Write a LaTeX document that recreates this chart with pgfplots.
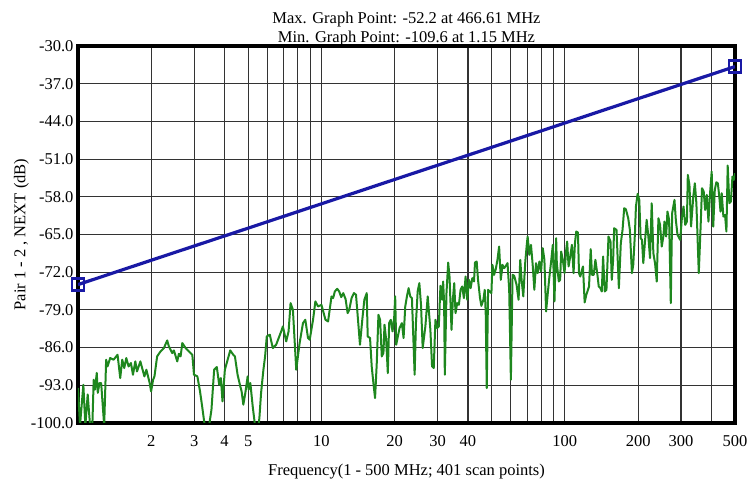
\documentclass[border=0pt]{standalone}
\usepackage{fontspec}
\setmainfont{Liberation Serif}
\usepackage{pgfplots}
\usepackage{pgfplotstable}
\pgfplotsset{compat=1.18}
\definecolor{limitblue}{RGB}{25,25,165}
\definecolor{datagreen}{RGB}{30,135,30}

\pgfplotstableread{
f v
1.00 -93.5
1.019 -100.5
1.052 -92.9
1.072 -100.5
1.096 -94.7
1.121 -100.5
1.13 -109.6
1.16 -91.96
1.175 -93.8
1.194 -90.7
1.206 -94.4
1.225 -92.6
1.245 -92.6
1.281 -100.5
1.305 -88.25
1.322 -89.5
1.356 -87.94
1.400 -88.25
1.454 -87.33
1.491 -91.65
1.520 -88.25
1.549 -89.8
1.579 -87.94
1.614 -89.5
1.650 -88.87
1.682 -91.04
1.720 -88.56
1.747 -90.42
1.804 -88.56
1.874 -91.35
1.910 -90.11
1.971 -92.58
1.997 -94.13
2.035 -91.96
2.061 -91.35
2.114 -87.63
2.183 -86.71
2.253 -86.09
2.325 -84.67
2.362 -85.78
2.438 -87.02
2.477 -86.52
2.557 -88.56
2.598 -87.14
2.640 -87.63
2.682 -85.16
2.768 -86.09
2.857 -86.71
2.949 -87.33
2.996 -91.04
3.093 -91.35
3.172 -94.13
3.243 -97.22
3.316 -100.5
3.456 -100.5
3.534 -97.53
3.625 -90.11
3.718 -89.61
3.802 -92.89
3.863 -91.65
3.924 -95.98
4.012 -90.11
4.155 -87.63
4.221 -86.52
4.343 -87.33
4.412 -87.63
4.525 -91.04
4.642 -93.2
4.701 -94.13
4.777 -96.6
4.868 -94.44
4.977 -91.35
5.025 -93.82
5.105 -92.58
5.220 -96.91
5.337 -100.5
5.508 -100.5
5.561 -99.08
5.650 -94.44
5.777 -90.11
5.870 -87.63
5.964 -83.92
6.137 -83.61
6.314 -86.09
6.516 -85.47
6.834 -83.0
6.944 -82.07
7.168 -84.85
7.329 -83.0
7.470 -77.74
7.637 -78.98
7.882 -90.11
8.136 -85.16
8.399 -81.45
8.588 -80.83
8.809 -84.23
8.950 -84.54
9.238 -80.83
9.445 -77.43
9.689 -78.36
10.0 -78.05
10.39 -80.83
10.65 -81.14
11.0 -76.5
11.17 -76.81
11.35 -75.58
11.61 -75.08
11.83 -75.58
12.06 -76.63
12.29 -75.88
12.57 -77.0
12.81 -79.6
13.01 -78.98
13.30 -76.81
13.60 -75.88
13.87 -76.19
14.17 -81.45
14.40 -85.47
14.72 -80.83
15.01 -77.12
15.35 -75.88
15.49 -83.93
15.84 -84.23
16.09 -89.49
16.35 -92.58
16.61 -95.37
16.88 -88.87
17.15 -79.9
17.42 -80.83
17.70 -87.64
17.98 -87.02
18.16 -81.76
18.45 -84.54
18.74 -90.73
18.98 -81.45
19.28 -80.83
19.59 -83.0
19.90 -80.52
20.09 -76.5
20.29 -85.47
20.61 -83.93
20.94 -82.38
21.41 -81.45
21.75 -84.23
22.10 -78.36
22.45 -76.5
22.81 -74.96
23.17 -76.5
23.54 -76.81
24.15 -91.04
24.45 -81.45
24.85 -75.58
25.25 -74.03
25.65 -78.05
26.06 -86.09
26.73 -82.07
27.33 -76.5
28.03 -82.69
28.48 -89.49
28.93 -89.8
29.40 -80.83
29.87 -82.38
30.35 -82.07
30.83 -74.52
31.33 -77.12
31.62 -73.72
31.92 -77.74
32.13 -91.04
32.64 -75.89
33.17 -70.2
33.59 -72.79
34.23 -82.69
34.67 -77.12
35.12 -74.03
35.56 -79.6
36.13 -77.74
36.71 -78.05
37.29 -75.27
37.89 -74.65
38.49 -76.81
39.11 -72.79
39.74 -77.12
40.37 -73.41
41.02 -74.96
41.67 -73.10
42.34 -73.72
42.75 -70.2
43.43 -70.01
43.99 -73.41
44.83 -76.81
45.40 -78.24
46.28 -77.12
46.87 -75.27
47.31 -79.6
47.77 -93.51
48.38 -75.27
49.15 -75.58
49.92 -75.89
50.40 -70.63
51.21 -72.49
52.03 -71.43
52.86 -69.7
53.70 -67.23
54.57 -73.41
55.44 -70.63
56.33 -71.25
57.23 -70.82
58.15 -70.32
59.07 -75.27
60.02 -91.96
60.98 -72.49
61.94 -72.67
63.34 -74.34
64.55 -77.12
65.59 -69.7
66.43 -73.41
67.49 -76.5
68.79 -70.01
69.66 -67.23
70.33 -65.37
71.45 -68.77
72.60 -66.92
73.77 -70.63
74.94 -75.27
76.14 -70.32
77.36 -72.18
78.60 -70.01
79.86 -71.87
81.13 -67.54
82.41 -69.7
83.75 -79.29
85.09 -75.89
86.44 -72.79
87.83 -70.01
89.23 -66.92
90.65 -77.43
92.10 -65.68
92.67 -70.32
94.45 -73.72
95.65 -73.41
96.56 -68.16
98.10 -69.7
99.68 -72.18
101.3 -67.85
102.2 -66.30
103.6 -70.94
105.2 -69.08
106.9 -66.92
108.6 -72.18
110.0 -66.61
111.4 -64.45
113.2 -64.63
114.3 -72.18
115.7 -72.8
117.6 -71.56
118.7 -70.94
120.6 -77.62
122.5 -76.2
125.7 -74.65
127.7 -67.72
129.3 -72.49
131.4 -72.49
133.5 -69.7
136.1 -72.49
137.8 -74.65
140.0 -74.96
141.8 -75.58
143.6 -69.08
145.9 -75.58
148.2 -75.27
151.1 -65.37
154.0 -66.30
155.9 -73.41
157.9 -69.7
159.4 -63.83
163.0 -64.14
166.7 -74.96
169.8 -66.61
172.6 -64.14
175.3 -60.12
178.1 -60.3
182.1 -61.97
185.0 -64.14
188.6 -72.18
191.0 -70.63
194.1 -64.75
195.9 -59.81
199.1 -57.46
202.2 -58.57
204.8 -65.68
207.4 -65.99
210.0 -70.32
213.4 -66.30
216.8 -62.28
220.3 -65.37
223.8 -69.4
227.4 -59.2
231.0 -68.47
234.7 -70.33
238.5 -73.73
242.3 -61.98
246.1 -63.21
250.1 -67.23
254.1 -65.26
256.5 -62.6
260.6 -65.38
263.9 -60.74
268.1 -62.29
272.4 -77.75
275.9 -61.05
282.1 -58.58
285.7 -62.29
290.3 -65.07
297.7 -66.0
302.5 -61.98
307.3 -59.81
312.3 -63.21
317.3 -62.6
320 -53.94
325 -55.79
330 -63.52
337 -57.96
342 -55.48
347 -59.19
355 -72.18
361 -63.83
366 -56.41
372 -57.03
377 -60.43
383 -57.65
389 -62.6
395 -57.34
401 -53.32
407 -63.52
413 -56.72
419 -55.3
425 -55.48
431 -57.96
436 -60.74
441 -57.34
448 -61.67
455 -61.36
461 -64.45
466.61 -52.2
474 -59.19
481 -58.88
488 -54.25
494 -54.87
500 -53.63
}\nextdata

\pgfplotstableread{
f v
1 -74.3
2 -69.78
5 -63.82
10 -59.3
20 -54.78
50 -48.82
100 -44.3
200 -39.78
500 -33.82
}\limitdata

\begin{document}
\begin{tikzpicture}[font=\fontsize{16.5}{19}\selectfont]
\useasboundingbox (0,0) rectangle (748pt,482pt);
\begin{axis}[
  at={(78pt,59pt)}, anchor=south west,
  scale only axis, width=657pt, height=377pt,
  xmode=log, xmin=1, xmax=500, ymin=-100, ymax=-30,
  clip mode=individual,
  xtick={2,3,4,5,10,20,30,40,100,200,300,500},
  xticklabels={2,3,4,5,10,20,30,40,100,200,300,500},
  minor xtick={6,7,8,9,50,60,70,80,90,400},
  ytick={-100,-93,-86,-79,-72,-65,-58,-51,-44,-37,-30},
  /pgf/number format/assume math mode=true,
  yticklabel style={/pgf/number format/fixed, /pgf/number format/fixed zerofill, /pgf/number format/precision=1, xshift=-1pt},
  xticklabel style={yshift=-9pt},
  major tick length=0pt, minor tick length=0pt,
  xmajorgrids, xminorgrids, ymajorgrids,
  major grid style={black!80, line width=1.1pt},
  minor grid style={black!80, line width=1.1pt},
  axis line style={line width=4.8pt, black},
  title={Max. Graph Point: -52.2 at 466.61 MHz\\Min. Graph Point: -109.6 at 1.15 MHz},
  title style={at={(axis description cs:0.5,1)}, anchor=south, align=center, inner sep=0pt, yshift=-6pt},
  xlabel={Frequency(1 - 500 MHz; 401 scan points)},
  xlabel style={at={(axis description cs:0.5,-0.1300)}, anchor=center},
  ylabel={Pair 1 - 2 , NEXT (dB)},
  ylabel style={at={(axis description cs:-0.0860,0.5)}, anchor=center, rotate=0},
]
\addplot[datagreen, line width=2pt, line join=round] table[x=f, y=v] {\nextdata};
\addplot[limitblue, line width=3.2pt, mark=square, mark size=6pt, mark indices={1,9},
  mark options={line width=2.2pt, solid, fill=white}] table[x=f, y=v] {\limitdata};
\end{axis}
\end{tikzpicture}
\end{document}
